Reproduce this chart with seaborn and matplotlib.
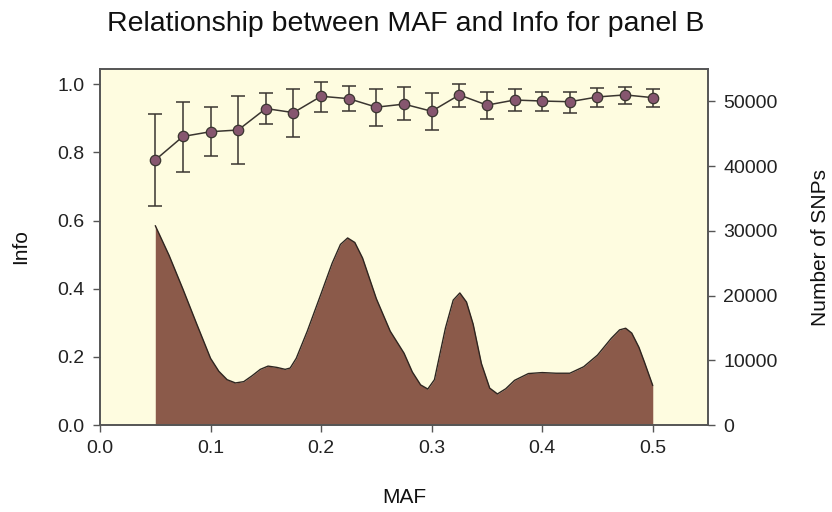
import matplotlib
matplotlib.use("Agg")
import matplotlib.pyplot as plt
import seaborn as sns
import numpy as np
import pandas as pd

# --- data ---
maf_points = [0.05, 0.075, 0.1, 0.125, 0.15, 0.175, 0.2, 0.225, 0.25, 0.275,
              0.3, 0.325, 0.35, 0.375, 0.4, 0.425, 0.45, 0.475, 0.5]
info_mean = [0.778, 0.847, 0.861, 0.866, 0.929, 0.917, 0.965, 0.958, 0.933, 0.942,
             0.921, 0.969, 0.939, 0.954, 0.951, 0.949, 0.963, 0.969, 0.961]
info_upper = [0.914, 0.948, 0.933, 0.965, 0.976, 0.987, 1.007, 0.994, 0.987, 0.991,
              0.975, 1.002, 0.979, 0.987, 0.977, 0.977, 0.989, 0.993, 0.987]
info_lower = [0.643, 0.743, 0.790, 0.765, 0.884, 0.845, 0.920, 0.923, 0.879, 0.894,
              0.865, 0.933, 0.899, 0.921, 0.923, 0.916, 0.933, 0.941, 0.933]

maf_density = [0.050, 0.0625, 0.075, 0.0875, 0.100, 0.1075, 0.115, 0.1225, 0.130, 0.1375,
               0.145, 0.152, 0.160, 0.1675, 0.172, 0.1775, 0.1875, 0.200, 0.210, 0.2175,
               0.224, 0.2305, 0.2375, 0.250, 0.2625, 0.275, 0.2825, 0.290, 0.2965, 0.3025,
               0.3125, 0.3195, 0.3255, 0.3315, 0.3375, 0.345, 0.3525, 0.3595, 0.367, 0.375,
               0.3875, 0.400, 0.4125, 0.425, 0.4375, 0.450, 0.4625, 0.470, 0.4755, 0.481,
               0.4875, 0.4925, 0.500]
snp_count = [30800, 26200, 21000, 15600, 10300, 8300, 7000, 6500, 6700, 7600,
             8600, 9100, 8900, 8600, 8800, 10300, 14500, 20300, 25000, 27900,
             28900, 28200, 25800, 19500, 14500, 11100, 8200, 6200, 5560, 7000,
             15000, 19300, 20400, 19000, 15600, 9500, 5700, 4800, 5600, 6900,
             7950, 8100, 8000, 8000, 9000, 10800, 13400, 14700, 14950, 14200,
             12000, 9700, 6100]

x_ticks = [0.0, 0.1, 0.2, 0.3, 0.4, 0.5]
info_ticks = [0.0, 0.2, 0.4, 0.6, 0.8, 1.0]
snp_ticks = [0, 10000, 20000, 30000, 40000, 50000]

title = "Relationship between MAF and Info for panel B"

# --- styling ---
sns.set_theme(style="ticks")
plt.rcParams["font.family"] = ["Liberation Sans", "DejaVu Sans"]

BG = "#FEFCE0"
AREA = "#8B5A4A"
MARK = "#86566F"
EDGE = "#3A3530"
SPINE = "#555555"

fig = plt.figure(figsize=(8.32, 5.12), dpi=100)
fig.patch.set_facecolor("white")
ax = fig.add_axes([0.1202, 0.1699, 0.851 - 0.1202, 0.8652 - 0.1699])
ax2 = ax.twinx()

# area (number of SNPs) on the right axis, drawn behind
ax2.patch.set_visible(True)
ax2.patch.set_facecolor(BG)
ax.set_zorder(ax2.get_zorder() + 1)
ax.patch.set_visible(False)

dens = pd.DataFrame({"MAF": maf_density, "SNPs": snp_count})
ax2.fill_between(dens["MAF"], 0, dens["SNPs"], color=AREA, linewidth=0)
sns.lineplot(data=dens, x="MAF", y="SNPs", ax=ax2, color="#2E2520", linewidth=1.0)
ax2.set_ylim(0, 55000)
ax2.set_yticks(snp_ticks)
ax2.set_yticklabels([str(v) for v in snp_ticks])
ax2.set_ylabel("Number of SNPs", fontsize=15, labelpad=24, color="#111111")

# info points with error bars on the left axis
pts = pd.DataFrame({"MAF": maf_points, "Info": info_mean})
yerr = [np.array(info_mean) - np.array(info_lower), np.array(info_upper) - np.array(info_mean)]
ax.errorbar(maf_points, info_mean, yerr=yerr, fmt="none", ecolor=EDGE,
            elinewidth=1.1, capsize=5, capthick=1.1, zorder=2)
sns.lineplot(data=pts, x="MAF", y="Info", ax=ax, color=EDGE, linewidth=1.1,
             marker="o", markersize=7.5, markerfacecolor=MARK, markeredgecolor=EDGE,
             markeredgewidth=0.9, zorder=3)
ax.set_xlim(0, 0.55)
ax.set_ylim(0, 1.045)
ax.set_xticks(x_ticks)
ax.set_xticklabels([f"{v:.1f}" for v in x_ticks])
ax.set_yticks(info_ticks)
ax.set_yticklabels([f"{v:.1f}" for v in info_ticks])
ax.set_xlabel("MAF", fontsize=15, labelpad=22, color="#111111")
ax.set_ylabel("Info", fontsize=15, labelpad=20, color="#111111")
ax2.set_xlabel("")

for a in (ax, ax2):
    a.tick_params(axis="both", direction="out", length=5, width=1, colors=SPINE,
                  labelsize=14, labelcolor="#222222", pad=6)
    for s in a.spines.values():
        s.set_visible(True)
        s.set_color(SPINE)
        s.set_linewidth(1.2)

fig.suptitle(title, x=0.488, y=0.978, fontsize=20.5, color="#111111")

fig.savefig("out.png", dpi=100)
